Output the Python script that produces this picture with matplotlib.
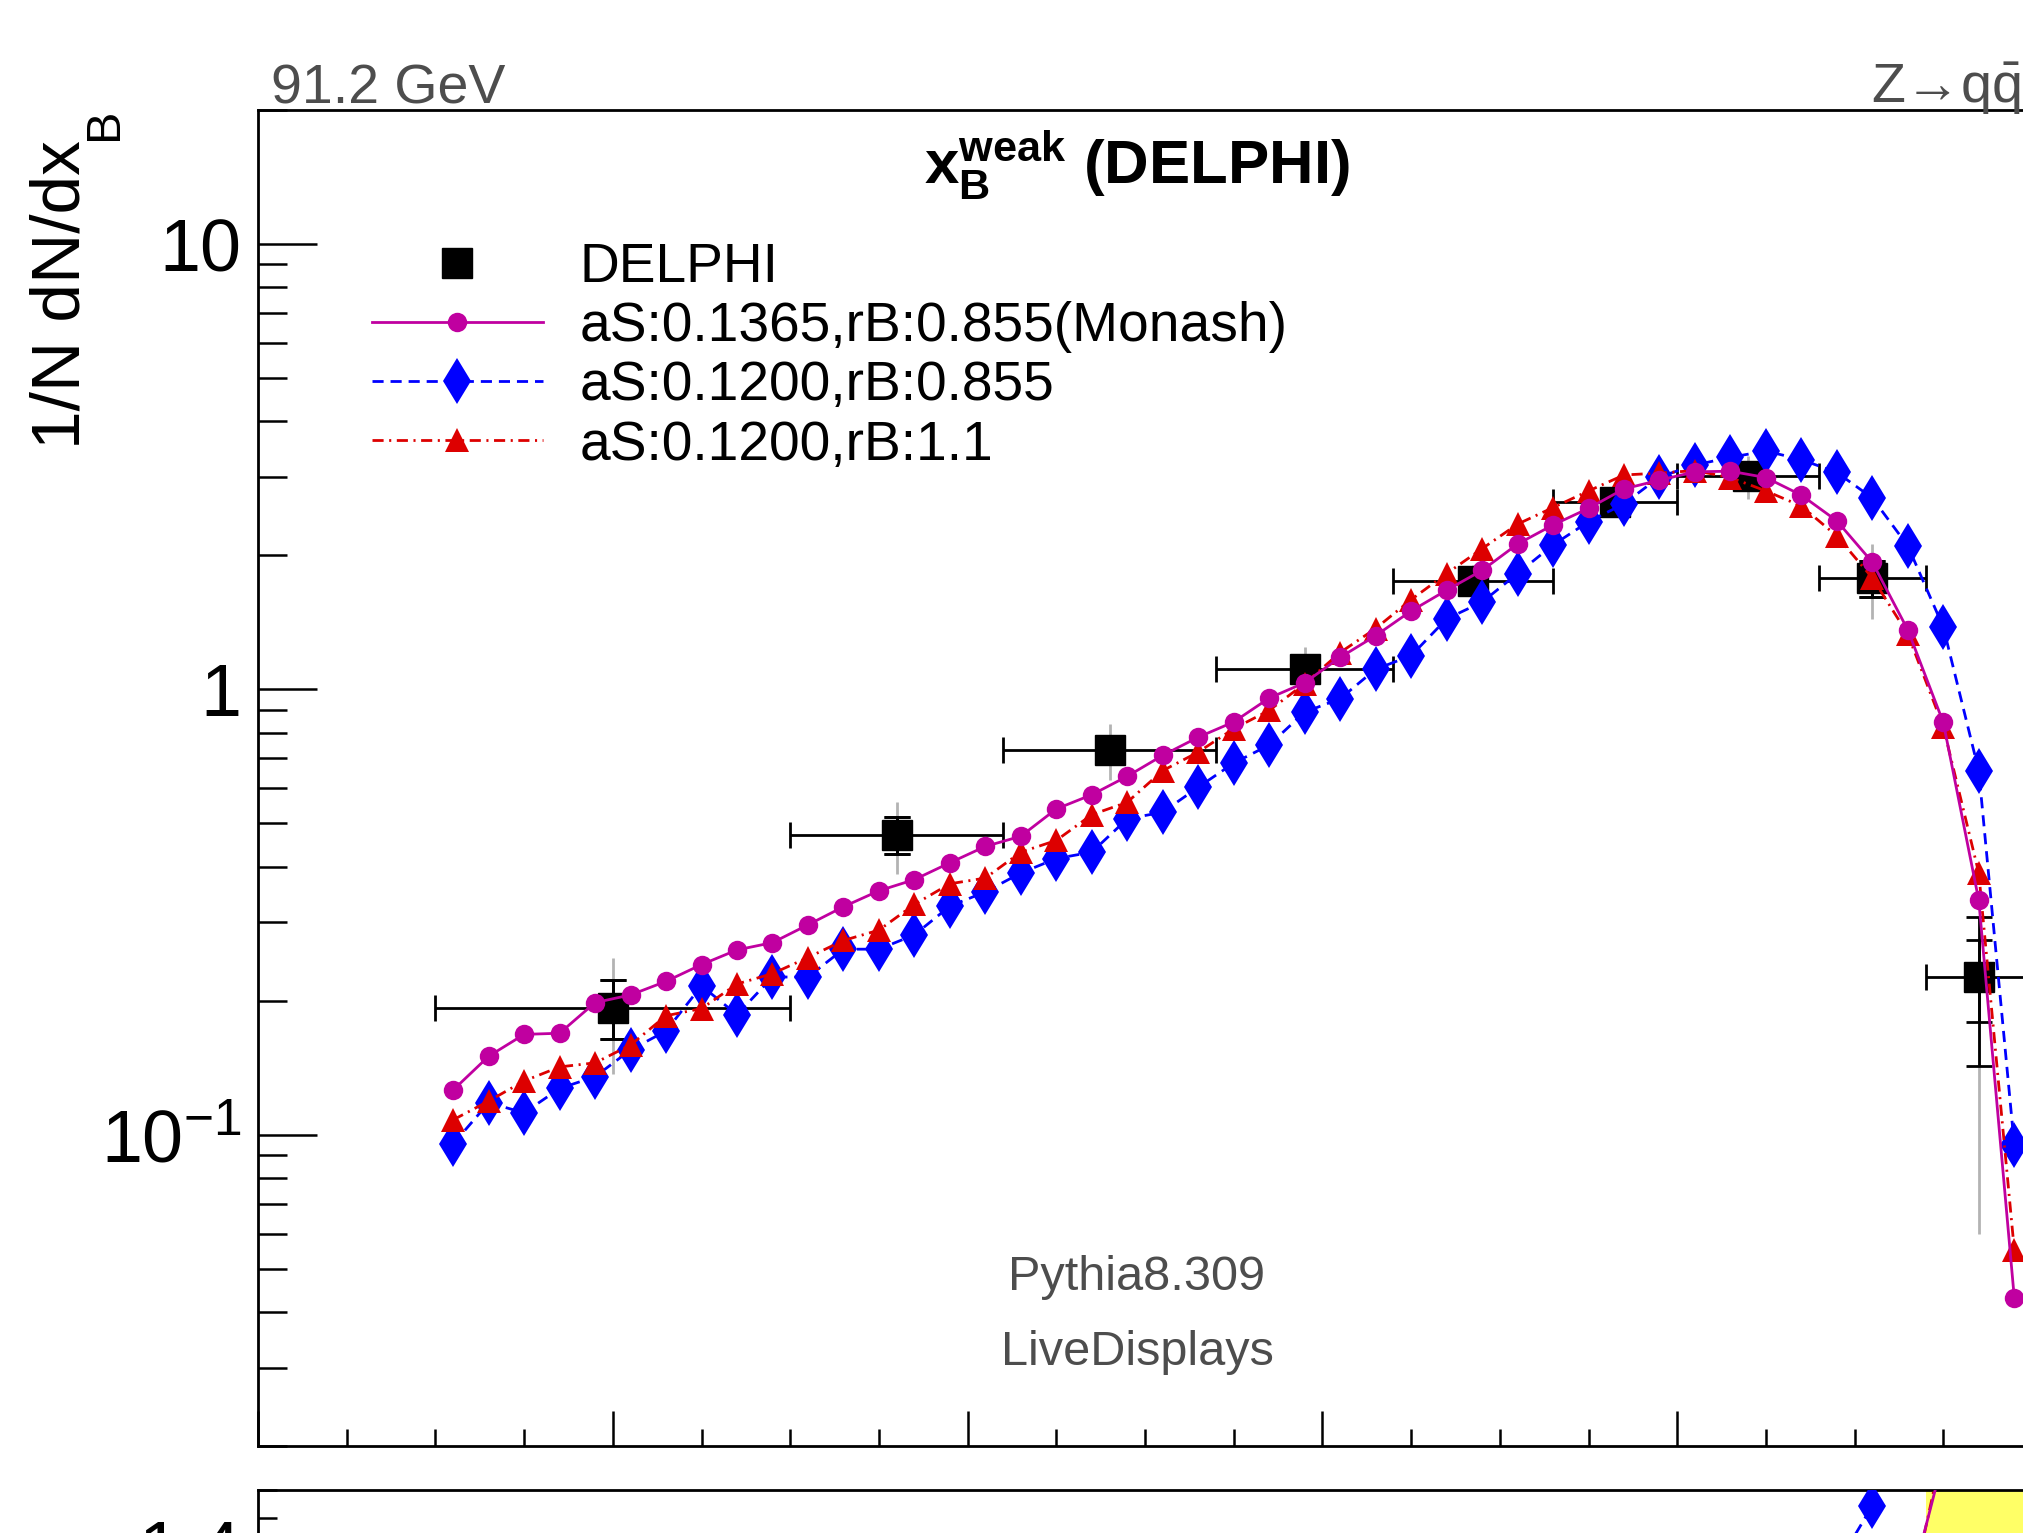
import numpy as np
import matplotlib
matplotlib.use("Agg")
import matplotlib.pyplot as plt
from matplotlib.lines import Line2D
from matplotlib.ticker import FixedLocator, FixedFormatter, MultipleLocator, LogLocator, NullFormatter

plt.rcParams["font.family"] = ["Liberation Sans", "DejaVu Sans"]
plt.rcParams["mathtext.fontset"] = "custom"
plt.rcParams["mathtext.rm"] = "Liberation Sans"
plt.rcParams["mathtext.it"] = "Liberation Sans:italic"
plt.rcParams["mathtext.bf"] = "Liberation Sans:bold"
plt.rcParams["mathtext.default"] = "regular"
plt.rcParams["lines.scale_dashes"] = False

# DELPHI x_B^weak data (bin centre, bin edges, value, errors)
delphi_x = [0.20, 0.36, 0.48, 0.59, 0.685, 0.765, 0.84, 0.91, 0.97]
delphi_xlo = [0.10, 0.30, 0.42, 0.54, 0.64, 0.73, 0.80, 0.88, 0.94]
delphi_xhi = [0.30, 0.42, 0.54, 0.64, 0.73, 0.80, 0.88, 0.94, 1.00]
delphi_y = [0.193, 0.472, 0.732, 1.109, 1.75, 2.64, 3.01, 1.78, 0.226]
delphi_stat = [0.029, 0.044, 0.045, 0.055, 0.09, 0.13, 0.14, 0.165, 0.047]
delphi_stat_outer = [0.029, 0.044, 0.045, 0.055, 0.09, 0.13, 0.14, 0.165, 0.083]
delphi_sys_lo = [0.056, 0.087, 0.105, 0.136, 0.15, 0.15, 0.34, 0.34, 0.166]
delphi_sys_hi = [0.056, 0.086, 0.102, 0.136, 0.15, 0.15, 0.33, 0.34, 0.084]

# Pythia 8.309 predictions, bin width 0.02
mc_x = [0.11, 0.13, 0.15, 0.17, 0.19, 0.21, 0.23, 0.25, 0.27, 0.29,
        0.31, 0.33, 0.35, 0.37, 0.39, 0.41, 0.43, 0.45, 0.47, 0.49,
        0.51, 0.53, 0.55, 0.57, 0.59, 0.61, 0.63, 0.65, 0.67, 0.69,
        0.71, 0.73, 0.75, 0.77, 0.79, 0.81, 0.83, 0.85, 0.87, 0.89,
        0.91, 0.93, 0.95, 0.97, 0.99]
monash = [0.126, 0.150, 0.168, 0.169, 0.198, 0.206, 0.221, 0.241, 0.260, 0.270,
          0.296, 0.325, 0.353, 0.374, 0.408, 0.444, 0.468, 0.539, 0.580, 0.638,
          0.711, 0.781, 0.845, 0.956, 1.035, 1.18, 1.32, 1.50, 1.67, 1.85,
          2.12, 2.34, 2.55, 2.82, 2.95, 3.08, 3.09, 2.99, 2.73, 2.39,
          1.93, 1.36, 0.843, 0.336, 0.0431]
as0120_rb0855 = [0.0953, 0.118, 0.112, 0.127, 0.135, 0.155, 0.171, 0.216, 0.186, 0.226,
                 0.226, 0.261, 0.261, 0.281, 0.326, 0.351, 0.387, 0.417, 0.431, 0.512,
                 0.530, 0.603, 0.683, 0.75, 0.889, 0.953, 1.11, 1.19, 1.44, 1.57,
                 1.82, 2.11, 2.38, 2.61, 3.00, 3.19, 3.32, 3.43, 3.28, 3.07,
                 2.69, 2.10, 1.38, 0.656, 0.095]
as0120_rb11 = [0.108, 0.119, 0.132, 0.142, 0.145, 0.159, 0.185, 0.192, 0.218, 0.230,
               0.250, 0.273, 0.288, 0.329, 0.366, 0.377, 0.431, 0.458, 0.523, 0.558,
               0.657, 0.723, 0.816, 0.897, 1.03, 1.21, 1.37, 1.59, 1.82, 2.07,
               2.35, 2.56, 2.79, 3.03, 3.06, 3.10, 2.99, 2.79, 2.58, 2.21,
               1.78, 1.33, 0.824, 0.387, 0.0552]

labels = ["DELPHI", "aS:0.1365,rB:0.855(Monash)", "aS:0.1200,rB:0.855", "aS:0.1200,rB:1.1"]
ytick_vals = [0.1, 1, 10]
ytick_text = [r"$10^{-1}$", "1", "10"]

# series styles: (values, colour, marker, size, linestyle, zorder)
styles = [
    (monash, "#c000a0", "o", 14, "-", 6),
    (as0120_rb0855, "#0000ff", "d", 23, (0, (8, 5)), 4),
    (as0120_rb11, "#dd0000", "^", 17, (0, (8, 4, 1.5, 4)), 5),
]

W, H = 2023, 1533
fig = plt.figure(figsize=(W / 100, H / 100), dpi=100)
ax = fig.add_axes([258 / W, (H - 1446) / H, 1774 / W, (1446 - 110) / H])
rax = fig.add_axes([258 / W, (H - 1490 - 560) / H, 1774 / W, 560 / H])

x = np.array(delphi_x)
y = np.array(delphi_y)
xerr = [x - np.array(delphi_xlo), np.array(delphi_xhi) - x]

# data: grey systematic bars under black ones
ax.errorbar(x, y, yerr=[delphi_sys_lo, delphi_sys_hi], fmt="none",
            ecolor="#b3b3b3", elinewidth=2.0, capsize=0, zorder=2)
ax.errorbar(x, y, yerr=delphi_stat_outer, fmt="none", ecolor="black",
            elinewidth=2.0, capsize=9.7, capthick=2.0, zorder=2.5)
ax.errorbar(x, y, xerr=xerr, yerr=delphi_stat, fmt="s", color="black",
            ms=21, elinewidth=2.0, capsize=9.7, capthick=2.0, zorder=3)

for vals, col, mk, ms, ls, z in styles:
    ax.plot(mc_x, vals, color=col, marker=mk, ms=ms, ls=ls, lw=2.0,
            markeredgewidth=0, zorder=z)

ax.set_yscale("log")
ax.set_xlim(0, 1)
ax.set_ylim(0.02, 20)
ax.yaxis.set_major_locator(FixedLocator(ytick_vals))
ax.yaxis.set_major_formatter(FixedFormatter(ytick_text))
ax.yaxis.set_minor_locator(LogLocator(base=10, subs=np.arange(2, 10)))
ax.yaxis.set_minor_formatter(NullFormatter())
ax.xaxis.set_major_locator(MultipleLocator(0.2))
ax.xaxis.set_minor_locator(MultipleLocator(0.05))
ax.tick_params(axis="both", which="both", direction="in", top=False, right=False,
               labelbottom=False, width=1.8)
ax.tick_params(axis="y", which="major", length=42.5, labelsize=53, pad=12)
ax.tick_params(axis="y", which="minor", length=21)
ax.tick_params(axis="x", which="major", length=25)
ax.tick_params(axis="x", which="minor", length=12.6)
for sp in ax.spines.values():
    sp.set_linewidth(2.0)

# ratio panel: Pythia averaged over the DELPHI bins, divided by data
mc_xa = np.array(mc_x)
err_tot = np.hypot(delphi_stat_outer, delphi_sys_hi) / y
rax.bar(x, 2 * err_tot, bottom=1 - err_tot, width=np.array(delphi_xhi) - np.array(delphi_xlo),
        color="#ffff66", edgecolor="none", zorder=1)
for vals, col, mk, ms, ls, z in styles:
    v = np.array(vals)
    reb = np.array([v[(mc_xa > lo) & (mc_xa < hi)].mean()
                    for lo, hi in zip(delphi_xlo, delphi_xhi)])
    rax.plot(x, reb / y, color=col, marker=mk, ms=ms, ls=ls, lw=2.0,
             markeredgewidth=0, zorder=z)
rax.set_xlim(0, 1)
rax.set_ylim(0.5, 1.5)
rax.yaxis.set_major_locator(MultipleLocator(0.2))
rax.yaxis.set_minor_locator(MultipleLocator(0.05))
rax.xaxis.set_major_locator(MultipleLocator(0.2))
rax.xaxis.set_minor_locator(MultipleLocator(0.05))
rax.tick_params(axis="both", which="both", direction="in", top=False, right=False,
                labelbottom=False, width=1.8)
rax.tick_params(axis="y", which="major", length=27, labelsize=53, pad=12)
rax.tick_params(axis="y", which="minor", length=13.7)
for sp in rax.spines.values():
    sp.set_linewidth(2.0)

# legend
handles = [Line2D([], [], color="black", marker="s", ms=21, ls="none")]
for vals, col, mk, ms, ls, z in styles:
    handles.append(Line2D([], [], color=col, marker=mk, ms=ms, ls=ls, lw=2.0,
                          markeredgewidth=0))
fig.legend(handles, labels, loc="upper left", bbox_to_anchor=(372 / W, 1 - 242 / H),
           frameon=False, fontsize=39.7, handlelength=3.1, handletextpad=0.67,
           labelspacing=0.13, borderpad=0, borderaxespad=0, numpoints=1)

grey = "#4d4d4d"
fig.text(271 / W, 1 - 103 / H, "91.2 GeV", fontsize=40, color=grey, va="baseline", ha="left")
fig.text(2021 / W, 1 - 103 / H, r"Z→q$\bar{q}$", fontsize=40, color=grey,
         va="baseline", ha="right")
fig.text(1137 / W, 1 - 184 / H, r"$\mathbf{x_{B}^{weak}}$ (DELPHI)", fontsize=44.5,
         fontweight="bold", va="baseline", ha="center")
fig.text(1136 / W, 1 - 1290 / H, "Pythia8.309", fontsize=35, color=grey, va="baseline", ha="center")
fig.text(1137 / W, 1 - 1365 / H, "LiveDisplays", fontsize=35, color=grey, va="baseline", ha="center")
# y title with a lowered subscript
fig.text(30 / W, 1 - 140 / H, "1/N dN/dx", fontsize=50, rotation=90, va="top", ha="left")
fig.text(82 / W, 1 - 108 / H, "B", fontsize=35, rotation=90, va="top", ha="left")

fig.savefig("out.png", dpi=100)
plt.close(fig)
